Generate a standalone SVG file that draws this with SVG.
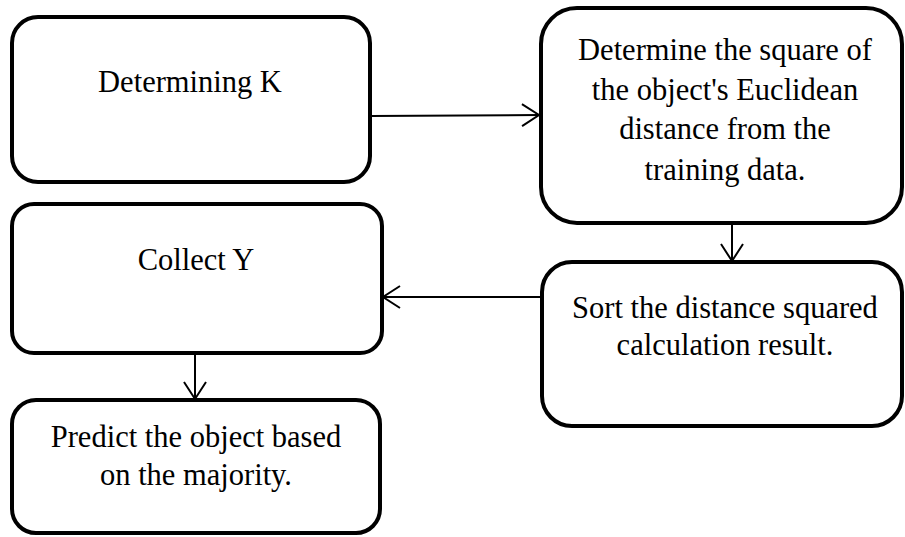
<svg xmlns="http://www.w3.org/2000/svg" width="905" height="537" viewBox="0 0 905 537">
  <style>
    .box { fill: #ffffff; stroke: #000000; stroke-width: 4; }
    .label { font-family: "Liberation Serif", "Times New Roman", serif; font-size: 30.5px; fill: #000000; text-anchor: middle; }
    .link { fill: none; stroke: #000000; stroke-width: 2; }
  </style>
  <defs>
    <marker id="open-arrow" viewBox="0 0 20 24" refX="18" refY="12" markerWidth="20" markerHeight="24" markerUnits="userSpaceOnUse" orient="auto">
      <path d="M1,1 L18,12 L1,23" fill="none" stroke="#000000" stroke-width="2"/>
    </marker>
  </defs>

  <rect width="905" height="537" fill="#ffffff"/>

  <g id="connectors">
    <line class="link" x1="370" y1="116" x2="539" y2="115" marker-end="url(#open-arrow)"/>
    <line class="link" x1="732" y1="223" x2="732" y2="261" marker-end="url(#open-arrow)"/>
    <line class="link" x1="542" y1="297" x2="383" y2="297" marker-end="url(#open-arrow)"/>
    <line class="link" x1="195" y1="351" x2="195" y2="399" marker-end="url(#open-arrow)"/>
  </g>

  <g id="determining-k">
    <rect class="box" x="12" y="17" width="358" height="165" rx="26" ry="26"/>
    <text class="label" x="190" y="92">Determining K</text>
  </g>

  <g id="euclidean-distance">
    <rect class="box" x="541" y="8" width="361" height="215" rx="36" ry="36"/>
    <text class="label" x="725" y="60">Determine the square of</text>
    <text class="label" x="725" y="100">the object's Euclidean</text>
    <text class="label" x="725" y="139">distance from the</text>
    <text class="label" x="725" y="180">training data.</text>
  </g>

  <g id="sort-distance">
    <rect class="box" x="542" y="262" width="360" height="164" rx="30" ry="30"/>
    <text class="label" x="725" y="318">Sort the distance squared</text>
    <text class="label" x="725" y="355">calculation result.</text>
  </g>

  <g id="collect-y">
    <rect class="box" x="12" y="204" width="370" height="149" rx="22" ry="22"/>
    <text class="label" x="196" y="270">Collect Y</text>
  </g>

  <g id="predict-object">
    <rect class="box" x="12" y="400" width="368" height="133" rx="24" ry="24"/>
    <text class="label" x="196" y="447">Predict the object based</text>
    <text class="label" x="196" y="485">on the majority.</text>
  </g>
</svg>
